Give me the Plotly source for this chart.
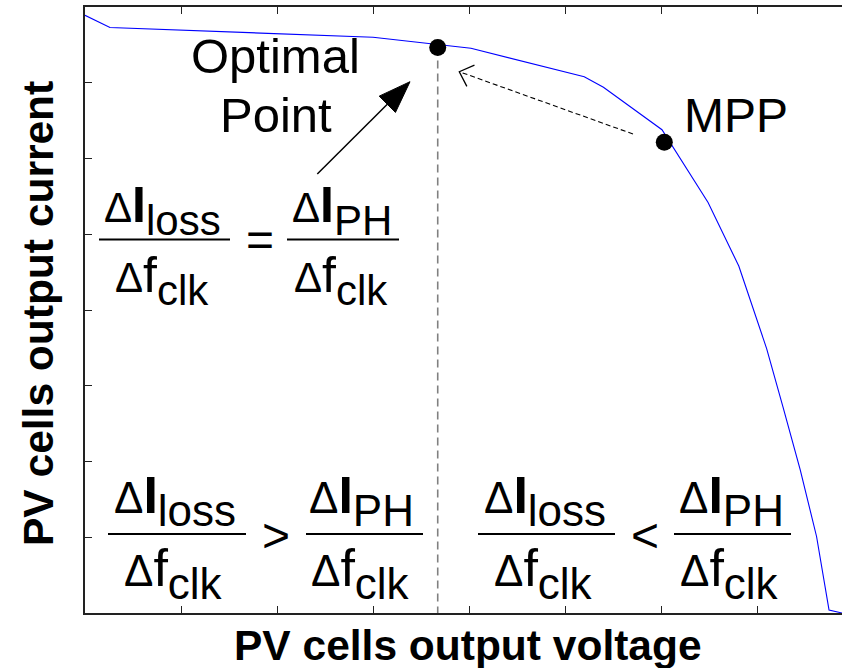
import math
import plotly.graph_objects as go

# ---------------- data (axis units) ----------------
voltage = [0.0, 0.26, 3.00, 4.02, 5.20, 5.40, 6.01, 6.49, 6.81, 7.10, 7.27, 7.45, 7.62, 7.75, 7.885]
current = [7.89, 7.73, 7.60, 7.455, 7.08, 6.94, 6.38, 5.42, 4.58, 3.49, 2.72, 1.89, 1.01, 0.04, 0.0]

opt_v, opt_i = [3.674], [7.465]
mpp_v, mpp_i = [6.034], [6.214]

x_ticks = [0, 1, 2, 3, 4, 5, 6, 7, 8]
y_ticks = [0, 1, 2, 3, 4, 5, 6, 7, 8]

label_opt1 = "Optimal"
label_opt2 = "Point"
label_mpp = "MPP"
x_title = "PV cells output voltage"
y_title = "PV cells output current"

# ---------------- figure geometry ----------------
W, H = 842, 668
ML, MR, MT, MB = 85, 0, 7, 55
XR = [0, 7.885]
YR = [0, 8.0]
PW = W - ML - MR
PH = H - MT - MB

FONT = "Liberation Sans, Arial, sans-serif"


def X(px):
    return XR[0] + (px - ML) / PW * (XR[1] - XR[0])


def Y(py):
    return YR[0] + (H - MB - py) / PH * (YR[1] - YR[0])


def PX(px):
    return (px - ML) / PW


def PY(py):
    return (H - MB - py) / PH


fig = go.Figure()

# vertical dashed line from the optimal point down to the axis
fig.add_trace(go.Scatter(x=[opt_v[0], opt_v[0]], y=[opt_i[0], YR[0]], mode="lines",
                         line=dict(color="#808080", width=1.6, dash="8px,5px"),
                         hoverinfo="skip", showlegend=False))

# I-V curve
fig.add_trace(go.Scatter(x=voltage, y=current, mode="lines",
                         line=dict(color="#0000ff", width=1.1),
                         hoverinfo="skip", showlegend=False))

# points
fig.add_trace(go.Scatter(x=opt_v + mpp_v, y=opt_i + mpp_i, mode="markers",
                         marker=dict(color="black", size=17),
                         hoverinfo="skip", showlegend=False))

shapes = []

# dashed arrow (MPP -> optimal point) with open head
tail = (633, 134)
tip = (459.3, 71.7)
shapes.append(dict(type="line", xref="x", yref="y",
                   x0=X(tail[0]), y0=Y(tail[1]), x1=X(tip[0]), y1=Y(tip[1]),
                   line=dict(color="black", width=1.1, dash="5px,3px")))
ang = math.atan2(tail[1] - tip[1], tail[0] - tip[0])
arm = 16.5
spread = math.radians(43)
pa = (tip[0] + arm * math.cos(ang - spread), tip[1] + arm * math.sin(ang - spread))
pb = (tip[0] + arm * math.cos(ang + spread), tip[1] + arm * math.sin(ang + spread))
shapes.append(dict(type="path", xref="x", yref="y",
                   path=f"M {X(pa[0])},{Y(pa[1])} L {X(tip[0])},{Y(tip[1])} L {X(pb[0])},{Y(pb[1])}",
                   line=dict(color="black", width=1.3)))

# solid arrow with filled head
stail = (317.3, 174)
stip = (410, 81.7)
dx, dy = stip[0] - stail[0], stip[1] - stail[1]
L = math.hypot(dx, dy)
ux, uy = dx / L, dy / L
hl, hw = 32, 11.5
base = (stip[0] - hl * ux, stip[1] - hl * uy)
c1 = (base[0] - hw * uy, base[1] + hw * ux)
c2 = (base[0] + hw * uy, base[1] - hw * ux)
shapes.append(dict(type="line", xref="x", yref="y",
                   x0=X(stail[0]), y0=Y(stail[1]), x1=X(base[0]), y1=Y(base[1]),
                   line=dict(color="black", width=1.5)))
shapes.append(dict(type="path", xref="x", yref="y",
                   path=f"M {X(stip[0])},{Y(stip[1])} L {X(c1[0])},{Y(c1[1])} L {X(c2[0])},{Y(c2[1])} Z",
                   fillcolor="black", line=dict(color="black", width=1)))

annotations = []


def txt(text, px, py, size, **kw):
    d = dict(text=text, x=PX(px), y=PY(py), xref="paper", yref="paper", showarrow=False,
             xanchor="center", yanchor="middle",
             font=dict(family=FONT, size=size, color="black"))
    d.update(kw)
    annotations.append(d)


txt(label_opt1, 275, 56.5, 49)
txt(label_opt2, 276, 115.5, 49)
txt(label_mpp, 735.5, 115.5, 48)


def frac_part(delta_sz, main_sz, main, sub, bold):
    m = f"<b>{main}</b>" if bold else main
    return (f"<span style='font-size:{delta_sz}px'>Δ</span>"
            f"<span style='font-size:{main_sz}px'>{m}</span><sub>{sub}</sub>")


# fractions: (numerator subscript, num cx, den cx, bar x0, bar x1, bar y, delta size, main size, sub size)
fracs = [
    ("loss", 162.5, 162.0, 99, 230, 239.5, 42, 50, 42),
    ("PH", 341.5, 340.5, 287, 399, 239.5, 42, 50, 42),
    ("loss", 174.5, 173.0, 108, 246, 534, 44, 52, 44),
    ("PH", 361.5, 360.0, 306, 423, 534, 44, 52, 44),
    ("loss", 544.5, 543.5, 478, 615, 534, 44, 52, 44),
    ("PH", 731.0, 729.5, 674, 791, 534, 44, 52, 44),
]
for s, ncx, dcx, bx0, bx1, by, dsz, msz, ssz in fracs:
    base_sz = ssz / 0.7
    upper = by < 400
    txt(frac_part(dsz, msz, "I", s, True), ncx, by - (29.5 if upper else 33.3), base_sz)
    txt(frac_part(dsz, msz, "f", "clk", False), dcx, by + (40.5 if upper else 39.7), base_sz)
    shapes.append(dict(type="line", xref="x", yref="y", x0=X(bx0), x1=X(bx1), y0=Y(by), y1=Y(by),
                       line=dict(color="black", width=2)))

# relation symbols
txt("=", 260, 239.5, 48)
txt(">", 275.5, 535, 48)
txt("<", 645, 535, 48)

# axis titles
txt(f"<b>{x_title}</b>", 467.5, 645.5, 42.5)
txt(f"<b>{y_title}</b>", 38.5, 313.5, 42.5, textangle=-90)

fig.update_layout(
    width=W, height=H,
    margin=dict(l=ML, r=MR, t=MT, b=MB, pad=0),
    paper_bgcolor="white", plot_bgcolor="white",
    shapes=shapes, annotations=annotations,
    xaxis=dict(range=XR, tickvals=x_ticks, showticklabels=False, ticks="inside", ticklen=7,
               tickwidth=1, tickcolor="#222", showline=True, linecolor="#222", linewidth=1.5,
               mirror="ticks", showgrid=False, zeroline=False, fixedrange=True),
    yaxis=dict(range=YR, tickvals=y_ticks, showticklabels=False, ticks="inside", ticklen=7,
               tickwidth=1, tickcolor="#222", showline=True, linecolor="#222", linewidth=1.5,
               mirror=False, showgrid=False, zeroline=False, fixedrange=True),
    showlegend=False,
)

fig.write_html("out.html", config={"displayModeBar": False},
               post_script="document.body.style.margin='0';document.body.style.overflow='hidden';")
